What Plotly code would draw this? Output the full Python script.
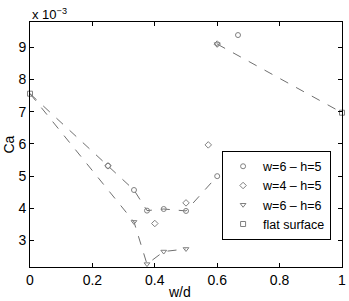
import plotly.graph_objects as go

# Data (Ca values in units of 1e-3)
circ_x = [0.25, 0.3333, 0.375, 0.4286, 0.5, 0.6, 0.6667]
circ_y = [5.32, 4.57, 3.93, 3.98, 3.92, 5.00, 9.38]
circ_line_x = [0, 0.25, 0.3333, 0.375, 0.4286, 0.5, 0.6]
circ_line_y = [7.56, 5.32, 4.57, 3.93, 3.98, 3.92, 5.00]

diam_x = [0.25, 0.4, 0.5, 0.5714, 0.6]
diam_y = [5.32, 3.53, 4.17, 5.97, 9.10]

tri_x = [0.3333, 0.375, 0.4286, 0.5, 0.6]
tri_y = [3.58, 2.27, 2.66, 2.74, 9.10]
tri_line_x = [0, 0.3333, 0.375, 0.4286, 0.5]
tri_line_y = [7.56, 3.58, 2.27, 2.66, 2.74]

flat_x = [0, 1]
flat_y = [7.56, 6.97]
upper_line_x = [0.6, 1]
upper_line_y = [9.10, 6.97]

x_ticks = [0, 0.2, 0.4, 0.6, 0.8, 1]
x_labels = ["0", "0.2", "0.4", "0.6", "0.8", "1"]
y_ticks = [3, 4, 5, 6, 7, 8, 9]

gray = "#808080"
fnt = "Liberation Sans, Arial, sans-serif"

fig = go.Figure()
line_style = dict(color="#707070", width=1, dash="dash")
for lx, ly in [(circ_line_x, circ_line_y), (tri_line_x, tri_line_y), (upper_line_x, upper_line_y)]:
    fig.add_trace(go.Scatter(x=lx, y=ly, mode="lines", line=line_style,
                             showlegend=False, hoverinfo="skip", cliponaxis=False))

def mk(x, y, sym, name):
    fig.add_trace(go.Scatter(x=x, y=y, mode="markers", name=name, cliponaxis=False,
                             marker=dict(symbol=sym, size=5, color=gray,
                                         line=dict(color=gray, width=1))))

mk(circ_x, circ_y, "circle-open", "w=6 \u2013 h=5")
mk(diam_x, diam_y, "diamond-open", "w=4 \u2013 h=5")
mk(tri_x, tri_y, "triangle-down-open", "w=6 \u2013 h=6")
mk(flat_x, flat_y, "square-open", "flat surface")

axis_common = dict(showline=True, linecolor="black", linewidth=1, mirror="ticks",
                   ticks="inside", ticklen=4, tickcolor="black", showgrid=False,
                   zeroline=False, automargin=False,
                   tickfont=dict(size=14, color="black", family=fnt))

fig.update_layout(
    width=349, height=301,
    margin=dict(l=30, r=7, t=22, b=34),
    paper_bgcolor="white", plot_bgcolor="white",
    font=dict(family=fnt, color="black", size=14),
    xaxis=dict(range=[0, 1], tickvals=x_ticks, ticktext=x_labels, **axis_common),
    yaxis=dict(range=[2.18, 9.785], tickvals=y_ticks, **axis_common),
    legend=dict(x=0.965, xanchor="right", y=0.475, yanchor="top",
                bgcolor="white", bordercolor="black", borderwidth=1,
                font=dict(size=12.5, family=fnt), itemwidth=30,
                tracegroupgap=0),
    showlegend=True,
)
fig.add_annotation(text="x 10<sup>\u22123</sup>", xref="paper", yref="paper",
                   x=0, y=1.0, xanchor="left", yanchor="bottom", showarrow=False,
                   font=dict(size=13, family=fnt), yshift=-2)
fig.add_annotation(text="w/d", xref="paper", yref="paper", x=0.48, y=0,
                   xanchor="center", yanchor="top", yshift=-15, showarrow=False,
                   font=dict(size=14, family=fnt))
fig.add_annotation(text="Ca", xref="paper", yref="paper", x=0, y=0.5,
                   xanchor="center", yanchor="middle", xshift=-22, textangle=-90,
                   showarrow=False, font=dict(size=14, family=fnt))

fig.write_html("out.html", config={"displayModeBar": False},
               post_script="document.body.style.margin='0';document.body.style.overflow='hidden';")
